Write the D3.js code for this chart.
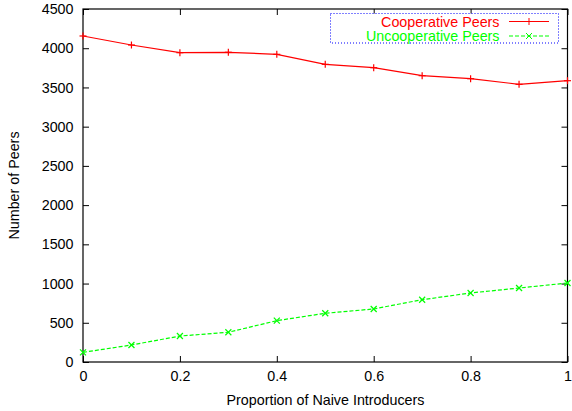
<!DOCTYPE html>
<html><head><meta charset="utf-8">
<script src="https://cdn.jsdelivr.net/npm/d3@7"></script>
<style>body{margin:0;background:#fff}svg{display:block}text{font-family:"Liberation Sans",Arial,sans-serif}</style>
</head><body>
<svg id="c" width="572" height="411"></svg>
<script>
const proportions = [0, 0.1, 0.2, 0.3, 0.4, 0.5, 0.6, 0.7, 0.8, 0.9, 1];
const cooperative = [4156, 4041, 3943, 3948, 3922, 3795, 3752, 3650, 3612, 3540, 3586];
const uncooperative = [123, 217, 331, 379, 527, 621, 676, 794, 880, 943, 1007];
const xTicks = [0, 0.2, 0.4, 0.6, 0.8, 1];
const yTicks = [0, 500, 1000, 1500, 2000, 2500, 3000, 3500, 4000, 4500];
const seriesNames = ["Cooperative Peers", "Uncooperative Peers"];

const svg = d3.select("#c");
const L = 83, R = 567.5, T = 9, B = 362;
const x = d3.scaleLinear().domain([0, 1]).range([L, R]);
const y = d3.scaleLinear().domain([0, 4500]).range([B, T]);
const tl = 6;
const fs = 14.3;

const fmtX = d => d === 0 ? "0" : d === 1 ? "1" : String(d);

// axes (ticks inward, mirrored)
const gB = svg.append("g").attr("transform", `translate(0,${B})`)
  .call(d3.axisBottom(x).tickValues(xTicks).tickFormat(fmtX).tickSizeInner(-tl).tickSizeOuter(0).tickPadding(9));
const gT = svg.append("g").attr("transform", `translate(0,${T})`)
  .call(d3.axisTop(x).tickValues(xTicks).tickFormat("").tickSizeInner(-tl).tickSizeOuter(0));
const gL = svg.append("g").attr("transform", `translate(${L},0)`)
  .call(d3.axisLeft(y).tickValues(yTicks).tickFormat(d3.format("d")).tickSizeInner(-tl).tickSizeOuter(0).tickPadding(9.5));
const gR = svg.append("g").attr("transform", `translate(${R},0)`)
  .call(d3.axisRight(y).tickValues(yTicks).tickFormat("").tickSizeInner(-tl).tickSizeOuter(0));
[gB, gT, gL, gR].forEach(g => {
  g.select(".domain").remove();
  g.selectAll("line").attr("stroke", "#000");
  g.selectAll("text").attr("font-size", fs).attr("fill", "#000");
});
svg.append("rect").attr("x", L).attr("y", T).attr("width", R - L).attr("height", B - T)
  .attr("fill", "none").attr("stroke", "#000").attr("stroke-width", 1.2);

// labels
svg.append("text").attr("x", 325.5).attr("y", 404.5).attr("text-anchor", "middle")
  .attr("font-size", fs).text("Proportion of Naive Introducers");
svg.append("text").attr("transform", `translate(18.5,${(T + B) / 2}) rotate(-90)`)
  .attr("text-anchor", "middle").attr("font-size", fs).text("Number of Peers");

const line = d3.line().x((d, i) => x(proportions[i])).y(d => y(d));
const plus = (g, cx, cy, s, col) => {
  g.append("line").attr("x1", cx - s).attr("x2", cx + s).attr("y1", cy).attr("y2", cy).attr("stroke", col);
  g.append("line").attr("x1", cx).attr("x2", cx).attr("y1", cy - s).attr("y2", cy + s).attr("stroke", col);
};
const cross = (g, cx, cy, s, col) => {
  g.append("line").attr("x1", cx - s).attr("x2", cx + s).attr("y1", cy - s).attr("y2", cy + s).attr("stroke", col);
  g.append("line").attr("x1", cx - s).attr("x2", cx + s).attr("y1", cy + s).attr("y2", cy - s).attr("stroke", col);
};

const red = "#ff0000", green = "#00ff00";
svg.append("path").datum(cooperative).attr("d", line).attr("fill", "none").attr("stroke", red).attr("stroke-width", 1.2);
const gm1 = svg.append("g").attr("stroke-width", 1.2);
cooperative.forEach((v, i) => plus(gm1, x(proportions[i]), y(v), 3.5, red));

svg.append("path").datum(uncooperative).attr("d", line).attr("fill", "none").attr("stroke", green)
  .attr("stroke-width", 1.2).attr("stroke-dasharray", "4,2");
const gm2 = svg.append("g").attr("stroke-width", 1.2);
uncooperative.forEach((v, i) => cross(gm2, x(proportions[i]), y(v), 3, green));

// legend
svg.append("rect").attr("x", 330.5).attr("y", 13.5).attr("width", 228).attr("height", 29.5)
  .attr("fill", "#fff").attr("stroke", "#0000ff").attr("stroke-width", 1).attr("stroke-dasharray", "1,2");
const lg = svg.append("g");
[[red, 0], [green, 1]].forEach(([col, i]) => {
  const ly = 21.5 + i * 14.5;
  lg.append("text").attr("x", 499.5).attr("y", ly + 5).attr("text-anchor", "end")
    .attr("font-size", fs).attr("fill", col).text(seriesNames[i]);
  lg.append("line").attr("x1", 509).attr("x2", 549).attr("y1", ly).attr("y2", ly)
    .attr("stroke", col).attr("stroke-width", 1.2).attr("stroke-dasharray", i ? "4,2" : null);
  if (i === 0) plus(lg, 529, ly, 3.5, col); else cross(lg, 529, ly, 3, col);
});
</script>
</body></html>
